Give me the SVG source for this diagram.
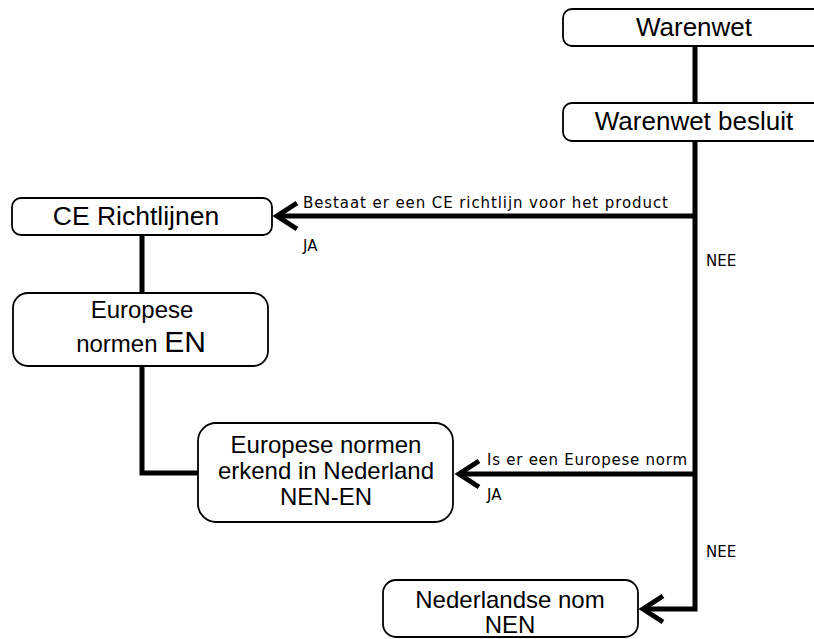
<svg xmlns="http://www.w3.org/2000/svg" width="814" height="639" viewBox="0 0 814 639">
<style>
.box{fill:#fff;stroke:#000;stroke-width:1.8}
.t{font-family:"Liberation Sans",Arial,sans-serif;fill:#000;text-anchor:middle}
.lbl{font-family:"DejaVu Sans",Tahoma,sans-serif;font-size:15px;fill:#000}
.ln{fill:none;stroke:#000;stroke-width:5}
.ah{fill:none;stroke:#000;stroke-width:5;stroke-linejoin:miter;stroke-linecap:butt}
</style>
<rect width="814" height="639" fill="#fff"/>
<g id="connectors">
<path class="ln" d="M695 46 V103"/>
<path class="ln" d="M695 141 V609 H643"/>
<path class="ln" d="M695 216 H277"/>
<path class="ln" d="M695 474 H460"/>
<path class="ln" d="M142 235 V293"/>
<path class="ln" d="M142 366 V473 H198"/>
<path class="ah" d="M297 203 L277 216 L297 229"/>
<path class="ah" d="M479 461 L459 474 L479 487"/>
<path class="ah" d="M663 596 L643 609 L663 622"/>
<text class="lbl" x="303" y="208" textLength="365" lengthAdjust="spacing">Bestaat er een CE richtlijn voor het product</text>
<text class="lbl" x="303" y="251">JA</text>
<text class="lbl" x="706" y="266">NEE</text>
<text class="lbl" x="487" y="465" textLength="200" lengthAdjust="spacing">Is er een Europese norm</text>
<text class="lbl" x="487" y="500">JA</text>
<text class="lbl" x="706" y="557">NEE</text>
</g>
<g id="warenwet">
<rect class="box" x="563" y="9" width="264" height="37" rx="9"/>
<text class="t" x="694" y="36" font-size="26">Warenwet</text>
</g>
<g id="warenwet-besluit">
<rect class="box" x="563" y="103" width="264" height="38" rx="9"/>
<text class="t" x="694" y="130" font-size="26">Warenwet besluit</text>
</g>
<g id="ce-richtlijnen">
<rect class="box" x="12" y="198" width="260" height="37" rx="9"/>
<text class="t" x="136" y="225" font-size="26.5">CE Richtlijnen</text>
</g>
<g id="europese-normen">
<rect class="box" x="13" y="293" width="255" height="73" rx="15"/>
<text class="t" x="142" y="318" font-size="24">Europese</text>
<text class="t" x="141" y="352" font-size="24">normen <tspan font-size="30">EN</tspan></text>
</g>
<g id="nen-en">
<rect class="box" x="198" y="423" width="255" height="99" rx="18"/>
<text class="t" x="326" y="453" font-size="24">Europese normen</text>
<text class="t" x="326" y="479" font-size="24">erkend in Nederland</text>
<text class="t" x="326" y="505" font-size="24">NEN-EN</text>
</g>
<g id="nen">
<rect class="box" x="383" y="580" width="255" height="57" rx="13"/>
<text class="t" x="510" y="608" font-size="24">Nederlandse nom</text>
<text class="t" x="510" y="633" font-size="24">NEN</text>
</g>
</svg>
